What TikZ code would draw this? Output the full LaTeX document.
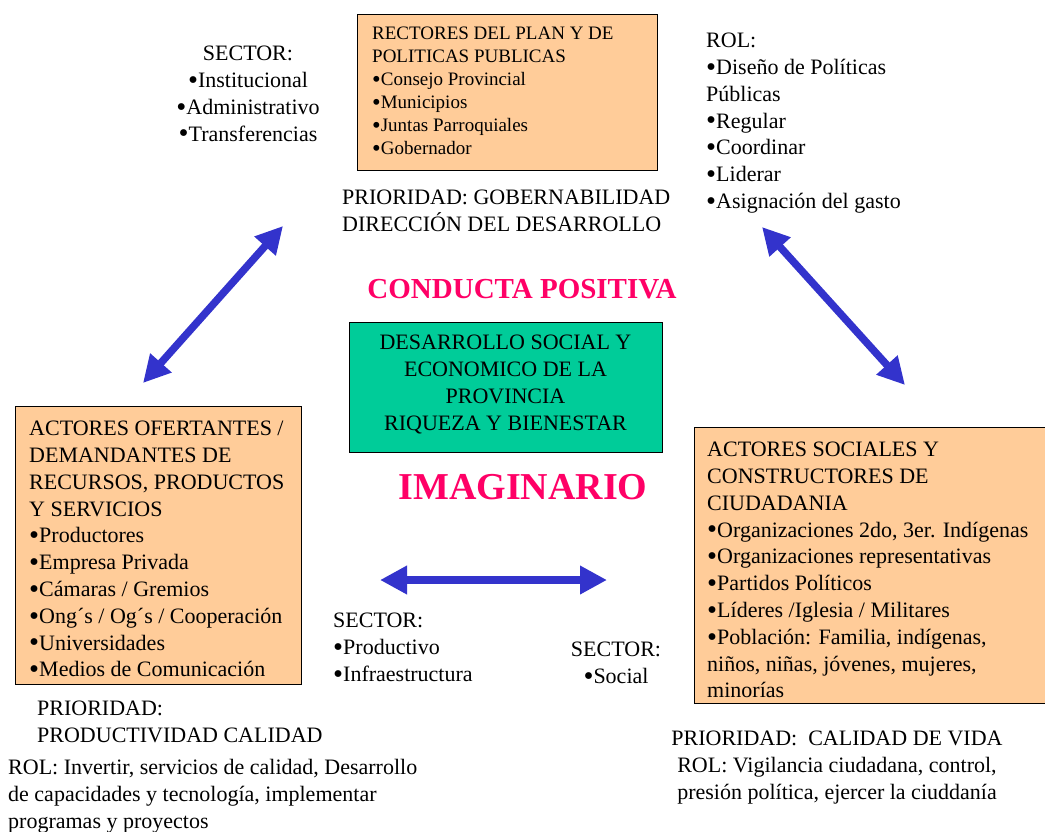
\documentclass[tikz,border=0pt]{standalone}
\usepackage{fontspec}
\usepackage{graphicx}
\setmainfont{Liberation Serif}
\usetikzlibrary{arrows.meta}
\definecolor{peach}{HTML}{FFCC99}
\definecolor{tealgreen}{HTML}{00CC99}
\definecolor{arrowblue}{HTML}{3333CC}
\definecolor{hotpink}{HTML}{FF0066}
\newcommand{\bu}{\raisebox{-0.08em}{\scalebox{1.3}{•}}}
\tikzset{
  txt/.style={inner sep=0pt, font=\fontsize{22}{26.8}\selectfont},
  smalltxt/.style={inner sep=0pt, font=\fontsize{19}{23}\selectfont},
  peachbox/.style={draw=black, line width=1pt, fill=peach, inner sep=0pt, anchor=north west},
  greenbox/.style={draw=black, line width=1pt, fill=tealgreen, inner sep=0pt, anchor=north west},
  bigarrow/.style={draw=arrowblue, line width=7.5pt,
    {Triangle[length=27pt,width=27pt]}-{Triangle[length=27pt,width=27pt]}},
  title/.style={inner sep=0pt, text=hotpink, font=\bfseries}
}
\begin{document}
\begin{tikzpicture}[x=1pt,y=-1pt]
\useasboundingbox (0,0) rectangle (1045,831);

% boxes
\node (topbox) [peachbox, minimum width=300pt, minimum height=156pt] at (357,14) {};
\node (greenb) [greenbox, minimum width=313pt, minimum height=130pt] at (349,322) {};
\node (leftbox) [peachbox, minimum width=286pt, minimum height=278pt] at (15,406) {};
\node (rightbox) [peachbox, minimum width=352pt, minimum height=276pt] at (694,427) {};

% top box text
\node (toptext) [smalltxt, anchor=north west, align=left] at (372,27) {RECTORES DEL PLAN Y DE\\POLITICAS PUBLICAS\\\bu Consejo Provincial\\\bu Municipios\\\bu Juntas Parroquiales\\\bu Gobernador};

% top-left sector
\node (sectortl) [txt, anchor=north, align=center] at (248,46) {SECTOR:\\\bu Institucional\\\bu Administrativo\\\bu Transferencias};

% top right rol
\node (roltr) [txt, anchor=north west, align=left] at (706,33) {ROL:\\\bu Diseño de Políticas\\Públicas\\\bu Regular\\\bu Coordinar\\\bu Liderar\\\bu Asignación del gasto};

% prioridad top
\node (priotop) [txt, anchor=north west, align=left] at (342,190) {PRIORIDAD: GOBERNABILIDAD\\DIRECCIÓN DEL DESARROLLO};

% titles
\node (conducta) [title, font=\bfseries\fontsize{29}{30}\selectfont] at (522,289) {CONDUCTA POSITIVA};
\node (imaginario) [title, font=\bfseries\fontsize{38}{40}\selectfont] at (523,487) {IMAGINARIO};

% green text
\node (greentext) [txt, anchor=north, align=center] at (505.5,335) {DESARROLLO SOCIAL Y\\ECONOMICO DE LA\\PROVINCIA\\RIQUEZA Y BIENESTAR};

% left box text
\node (lefttext) [txt, anchor=north west, align=left] at (29,421) {ACTORES OFERTANTES /\\DEMANDANTES DE\\RECURSOS, PRODUCTOS\\Y SERVICIOS\\\bu Productores\\\bu Empresa Privada\\\bu Cámaras / Gremios\\\bu Ong´s / Og´s / Cooperación\\\bu Universidades\\\bu Medios de Comunicación};

% right box text
\node (righttext) [txt, anchor=north west, align=left] at (707,442) {ACTORES SOCIALES Y\\CONSTRUCTORES DE\\CIUDADANIA\\\bu Organizaciones 2do, 3er. Indígenas\\\bu Organizaciones representativas\\\bu Partidos Políticos\\\bu Líderes /Iglesia / Militares\\\bu Población: Familia, indígenas,\\niños, niñas, jóvenes, mujeres,\\minorías};

% bottom sectors
\node (sectorprod) [txt, anchor=north west, align=left] at (333,613) {SECTOR:\\\bu Productivo\\\bu Infraestructura};
\node (sectorsoc) [txt, anchor=north, align=center] at (616,642) {SECTOR:\\\bu Social};

% bottom left
\node (prioleft) [txt, anchor=north west, align=left] at (37,701) {PRIORIDAD:\\PRODUCTIVIDAD CALIDAD};
\node (rolleft) [txt, anchor=north west, align=left] at (8,759) {ROL: Invertir, servicios de calidad, Desarrollo\\de capacidades y tecnología, implementar\\programas y proyectos};

% bottom right
\node (prioright) [txt, anchor=north, align=center] at (837,731) {PRIORIDAD:\ \ CALIDAD DE VIDA\\ROL: Vigilancia ciudadana, control,\\presión política, ejercer la ciuddanía};

% arrows
\coordinate (la1) at (143,383);
\coordinate (la2) at (283,226);
\coordinate (ra1) at (762,227);
\coordinate (ra2) at (905,385);
\coordinate (ha1) at (380,580);
\coordinate (ha2) at (607,580);
\draw[bigarrow] (la1) -- (la2);
\draw[bigarrow] (ra1) -- (ra2);
\draw[bigarrow] (ha1) -- (ha2);
\end{tikzpicture}
\end{document}
